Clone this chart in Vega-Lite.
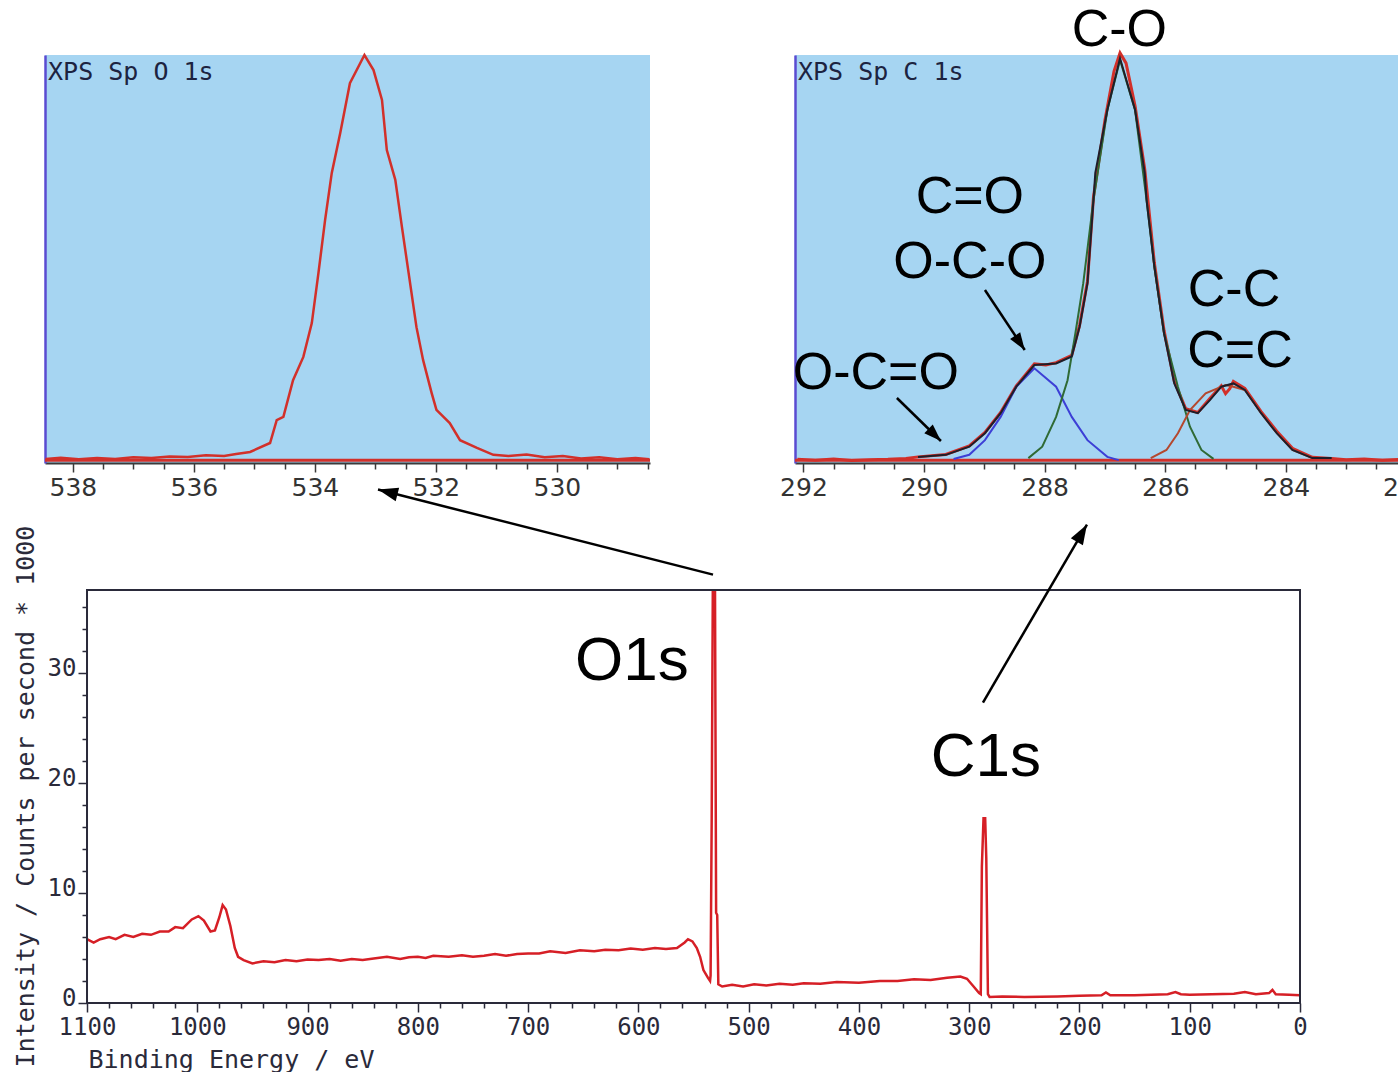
{
  "$schema": "https://vega.github.io/schema/vega-lite/v6.json",
  "background": "white",
  "padding": {"left": 12, "top": 4, "right": 0, "bottom": 0},
  "bounds": "flush",
  "spacing": 535,
  "config": {"axis": {"grid": false, "labelOverlap": false}, "view": {"stroke": null}},
  "datasets": {
    "o1s": [
      {"E": 538.45, "V": 1.0}, {"E": 538.2, "V": 1.3}, {"E": 537.9, "V": 0.9}, {"E": 537.6, "V": 1.2},
      {"E": 537.3, "V": 1.0}, {"E": 537.0, "V": 1.4}, {"E": 536.7, "V": 1.2}, {"E": 536.4, "V": 1.6},
      {"E": 536.1, "V": 1.5}, {"E": 535.8, "V": 1.9}, {"E": 535.5, "V": 1.7}, {"E": 535.3, "V": 2.2},
      {"E": 535.07, "V": 2.7}, {"E": 534.74, "V": 4.9}, {"E": 534.63, "V": 10.5}, {"E": 534.52, "V": 11.3},
      {"E": 534.36, "V": 20.3}, {"E": 534.19, "V": 26.0}, {"E": 534.05, "V": 34.3}, {"E": 533.94, "V": 46.6},
      {"E": 533.83, "V": 59.6}, {"E": 533.72, "V": 71.1}, {"E": 533.58, "V": 80.9}, {"E": 533.42, "V": 93.1},
      {"E": 533.18, "V": 100}, {"E": 533.03, "V": 96.3}, {"E": 532.89, "V": 89.0}, {"E": 532.81, "V": 76.7},
      {"E": 532.67, "V": 69.4}, {"E": 532.56, "V": 57.8}, {"E": 532.45, "V": 46.6}, {"E": 532.32, "V": 33.3},
      {"E": 532.21, "V": 25.2}, {"E": 532.07, "V": 17.2}, {"E": 531.99, "V": 13.0}, {"E": 531.77, "V": 9.8},
      {"E": 531.6, "V": 5.6}, {"E": 531.32, "V": 3.7}, {"E": 531.05, "V": 2.0}, {"E": 530.8, "V": 1.7},
      {"E": 530.5, "V": 2.1}, {"E": 530.2, "V": 1.4}, {"E": 529.9, "V": 1.7}, {"E": 529.6, "V": 1.1},
      {"E": 529.3, "V": 1.4}, {"E": 529.0, "V": 0.9}, {"E": 528.7, "V": 1.2}, {"E": 528.47, "V": 0.9}
    ],
    "c1s_data": [
      {"E": 292.1, "V": 0.9}, {"E": 291.8, "V": 0.7}, {"E": 291.5, "V": 1.0}, {"E": 291.2, "V": 0.6},
      {"E": 290.9, "V": 0.8}, {"E": 290.6, "V": 0.9}, {"E": 290.3, "V": 1.1}, {"E": 290.1, "V": 1.5},
      {"E": 289.64, "V": 2.1}, {"E": 289.25, "V": 4.2}, {"E": 288.99, "V": 7.5}, {"E": 288.73, "V": 12.4},
      {"E": 288.47, "V": 18.9}, {"E": 288.17, "V": 24.3}, {"E": 287.98, "V": 24.0}, {"E": 287.81, "V": 24.6},
      {"E": 287.55, "V": 26.4}, {"E": 287.42, "V": 33.8}, {"E": 287.29, "V": 44.5}, {"E": 287.19, "V": 65.2},
      {"E": 287.0, "V": 84}, {"E": 286.85, "V": 96}, {"E": 286.75, "V": 100.5}, {"E": 286.65, "V": 98},
      {"E": 286.5, "V": 87.5}, {"E": 286.34, "V": 72}, {"E": 286.18, "V": 49}, {"E": 286.02, "V": 32.5},
      {"E": 285.85, "V": 20}, {"E": 285.66, "V": 13.3}, {"E": 285.46, "V": 12.4}, {"E": 285.26, "V": 15.8},
      {"E": 285.07, "V": 18.9}, {"E": 285.0, "V": 17.0}, {"E": 284.93, "V": 18.2}, {"E": 284.87, "V": 20.0},
      {"E": 284.68, "V": 18.3}, {"E": 284.41, "V": 12.6}, {"E": 284.15, "V": 7.8}, {"E": 283.89, "V": 3.6},
      {"E": 283.56, "V": 1.4}, {"E": 283.24, "V": 1.1}, {"E": 283.0, "V": 0.8}, {"E": 282.7, "V": 1.0},
      {"E": 282.4, "V": 0.7}, {"E": 282.1, "V": 0.9}, {"E": 281.87, "V": 0.8}
    ],
    "c1s_env": [
      {"E": 290.1, "V": 1.5}, {"E": 289.64, "V": 2.0}, {"E": 289.25, "V": 4.0}, {"E": 288.99, "V": 7.3},
      {"E": 288.73, "V": 12.2}, {"E": 288.47, "V": 18.7}, {"E": 288.17, "V": 24.0}, {"E": 287.81, "V": 24.4},
      {"E": 287.55, "V": 26.1}, {"E": 287.42, "V": 33.4}, {"E": 287.29, "V": 44.0}, {"E": 287.19, "V": 64.5},
      {"E": 287.16, "V": 71.1}, {"E": 286.96, "V": 86.5}, {"E": 286.75, "V": 99.2}, {"E": 286.5, "V": 86.5},
      {"E": 286.34, "V": 71.1}, {"E": 286.31, "V": 64.5}, {"E": 286.18, "V": 48.1}, {"E": 286.02, "V": 31.8},
      {"E": 285.85, "V": 19.5}, {"E": 285.66, "V": 13.0}, {"E": 285.46, "V": 12.2}, {"E": 285.26, "V": 15.4},
      {"E": 285.07, "V": 18.7}, {"E": 284.87, "V": 19.5}, {"E": 284.68, "V": 17.9}, {"E": 284.41, "V": 12.2},
      {"E": 284.15, "V": 7.3}, {"E": 283.89, "V": 3.2}, {"E": 283.56, "V": 1.2}, {"E": 283.24, "V": 1.2}
    ],
    "c1s_blue": [
      {"E": 289.51, "V": 1.0}, {"E": 289.25, "V": 2.0}, {"E": 288.99, "V": 5.6}, {"E": 288.73, "V": 11.3},
      {"E": 288.47, "V": 18.7}, {"E": 288.17, "V": 23.2}, {"E": 287.81, "V": 18.7}, {"E": 287.55, "V": 11.3},
      {"E": 287.29, "V": 5.6}, {"E": 286.96, "V": 1.5}, {"E": 286.77, "V": 0.7}
    ],
    "c1s_green": [
      {"E": 288.27, "V": 1.2}, {"E": 288.04, "V": 4.0}, {"E": 287.81, "V": 11.3}, {"E": 287.62, "V": 20.3},
      {"E": 287.49, "V": 31.8}, {"E": 287.36, "V": 44.0}, {"E": 287.19, "V": 64.5}, {"E": 286.96, "V": 86.5},
      {"E": 286.75, "V": 98.8}, {"E": 286.5, "V": 86.5}, {"E": 286.31, "V": 64.5}, {"E": 286.18, "V": 48.1},
      {"E": 286.02, "V": 31.8}, {"E": 285.79, "V": 18.7}, {"E": 285.59, "V": 8.9}, {"E": 285.4, "V": 3.2},
      {"E": 285.2, "V": 1.0}
    ],
    "c1s_brown": [
      {"E": 286.24, "V": 1.2}, {"E": 285.98, "V": 3.2}, {"E": 285.79, "V": 7.3}, {"E": 285.59, "V": 13.0},
      {"E": 285.33, "V": 17.1}, {"E": 285.0, "V": 19.1}, {"E": 284.87, "V": 18.7}, {"E": 284.68, "V": 17.9},
      {"E": 284.41, "V": 12.2}, {"E": 284.15, "V": 7.3}, {"E": 283.89, "V": 3.2}, {"E": 283.56, "V": 1.2}
    ],
    "survey": [
      {"E": 1100, "I": 5.8}, {"E": 1094, "I": 5.5}, {"E": 1088, "I": 5.8}, {"E": 1080, "I": 6.0}, {"E": 1074, "I": 5.8},
      {"E": 1066, "I": 6.2}, {"E": 1058, "I": 6.0}, {"E": 1050, "I": 6.3}, {"E": 1042, "I": 6.2}, {"E": 1034, "I": 6.5},
      {"E": 1026, "I": 6.5}, {"E": 1020, "I": 6.9}, {"E": 1013, "I": 6.8}, {"E": 1005, "I": 7.6}, {"E": 999, "I": 7.9},
      {"E": 994, "I": 7.5}, {"E": 988, "I": 6.5}, {"E": 984, "I": 6.6}, {"E": 980, "I": 7.8},
      {"E": 977, "I": 8.9}, {"E": 974, "I": 8.5}, {"E": 970, "I": 7.0}, {"E": 966, "I": 5.0},
      {"E": 963, "I": 4.2}, {"E": 958, "I": 3.9}, {"E": 950, "I": 3.6}, {"E": 940, "I": 3.8}, {"E": 930, "I": 3.7},
      {"E": 920, "I": 3.9}, {"E": 910, "I": 3.8}, {"E": 900, "I": 3.95}, {"E": 890, "I": 3.9}, {"E": 880, "I": 4.0},
      {"E": 870, "I": 3.85}, {"E": 860, "I": 4.0}, {"E": 850, "I": 3.9}, {"E": 840, "I": 4.05}, {"E": 828, "I": 4.2},
      {"E": 816, "I": 4.0}, {"E": 808, "I": 4.15}, {"E": 800, "I": 4.2}, {"E": 793, "I": 4.1}, {"E": 786, "I": 4.3},
      {"E": 772, "I": 4.2}, {"E": 760, "I": 4.35}, {"E": 750, "I": 4.2}, {"E": 740, "I": 4.3}, {"E": 730, "I": 4.45},
      {"E": 720, "I": 4.3}, {"E": 710, "I": 4.45}, {"E": 700, "I": 4.5}, {"E": 690, "I": 4.5}, {"E": 680, "I": 4.7},
      {"E": 666, "I": 4.55}, {"E": 653, "I": 4.8}, {"E": 640, "I": 4.7}, {"E": 630, "I": 4.85}, {"E": 618, "I": 4.8},
      {"E": 607, "I": 4.95}, {"E": 596, "I": 4.85}, {"E": 585, "I": 5.0}, {"E": 575, "I": 4.9}, {"E": 565, "I": 5.0},
      {"E": 558, "I": 5.5}, {"E": 555, "I": 5.8}, {"E": 551, "I": 5.6}, {"E": 547, "I": 5.0}, {"E": 544, "I": 4.2},
      {"E": 541, "I": 3.0}, {"E": 537, "I": 2.3}, {"E": 535, "I": 2.0}, {"E": 534.5, "I": 2.5}, {"E": 533.5, "I": 16.8},
      {"E": 532.5, "I": 37.5}, {"E": 530.5, "I": 37.5}, {"E": 529.5, "I": 8.2}, {"E": 528.5, "I": 8.0},
      {"E": 527.5, "I": 1.7}, {"E": 524, "I": 1.5}, {"E": 515, "I": 1.65}, {"E": 505, "I": 1.5}, {"E": 495, "I": 1.7},
      {"E": 484, "I": 1.6}, {"E": 472, "I": 1.75}, {"E": 460, "I": 1.65}, {"E": 450, "I": 1.8}, {"E": 435, "I": 1.75},
      {"E": 420, "I": 1.9}, {"E": 400, "I": 1.85}, {"E": 381, "I": 2.0}, {"E": 365, "I": 2.0},
      {"E": 350, "I": 2.15}, {"E": 335, "I": 2.1}, {"E": 320, "I": 2.3}, {"E": 308, "I": 2.4}, {"E": 302, "I": 2.2},
      {"E": 296, "I": 1.5}, {"E": 291, "I": 0.9}, {"E": 289.5, "I": 0.8}, {"E": 288.5, "I": 12.4},
      {"E": 287, "I": 16.8}, {"E": 285.5, "I": 16.8}, {"E": 284.5, "I": 13.2}, {"E": 283, "I": 0.8},
      {"E": 281.5, "I": 0.55}, {"E": 270, "I": 0.6}, {"E": 250, "I": 0.55}, {"E": 220, "I": 0.6},
      {"E": 200, "I": 0.65}, {"E": 180, "I": 0.7}, {"E": 176, "I": 0.95}, {"E": 172, "I": 0.7}, {"E": 150, "I": 0.7},
      {"E": 120, "I": 0.8}, {"E": 113, "I": 1.0}, {"E": 108, "I": 0.8}, {"E": 100, "I": 0.75}, {"E": 80, "I": 0.8},
      {"E": 60, "I": 0.85}, {"E": 50, "I": 1.0}, {"E": 40, "I": 0.8},
      {"E": 28, "I": 0.9}, {"E": 25, "I": 1.2}, {"E": 22, "I": 0.8}, {"E": 10, "I": 0.75},
      {"E": 0, "I": 0.7}
    ],
    "arrows_main": [
      {"E": 532.3, "I": 38.95, "E2": 836.1, "I2": 46.68, "ang": 284.2},
      {"E": 287.5, "I": 27.32, "E2": 193.2, "I2": 43.5, "ang": 30.3}
    ],
    "labels_main": [
      {"E": 605.8, "I": 31.05, "t": "O1s"},
      {"E": 284.8, "I": 22.4, "t": "C1s"}
    ],
    "arrows_c": [
      {"E": 288.99, "V": 42.4, "E2": 288.33, "V2": 27.7, "ang": 146.3},
      {"E": 290.45, "V": 15.93, "E2": 289.72, "V2": 5.39, "ang": 134.3}
    ],
    "labels_c": [
      {"E": 286.76, "V": 106.1, "t": "C-O"},
      {"E": 289.24, "V": 65.2, "t": "C=O"},
      {"E": 289.24, "V": 49.3, "t": "O-C-O"},
      {"E": 284.86, "V": 42.4, "t": "C-C"},
      {"E": 284.76, "V": 27.5, "t": "C=C"},
      {"E": 290.8, "V": 22.1, "t": "O-C=O"}
    ],
    "title_o": [{"E": 538.41, "V": 95.8, "t": "XPS Sp O 1s"}],
    "title_c": [{"E": 292.09, "V": 95.8, "t": "XPS Sp C 1s"}],
    "one": [{"k": 1}]
  },
  "vconcat": [
    {
      "hconcat": [
        {
          "width": 605,
          "height": 408,
          "view": {"fill": "#a6d5f2", "stroke": null},
          "resolve": {"axis": {"x": "independent", "y": "independent"}},
          "layer": [
            {
              "data": {"name": "one"},
              "mark": {"type": "rule", "color": "#d2302a", "strokeWidth": 3},
              "encoding": {
                "y": {"datum": 0.7, "type": "quantitative", "scale": {"domain": [0, 100], "nice": false, "zero": false},
                  "axis": {"orient": "left", "domainColor": "#5a4bd1", "domainWidth": 2.5, "ticks": false, "labels": false, "title": null}}
              }
            },
            {
              "data": {"name": "o1s"},
              "mark": {"type": "line", "color": "#d2302a", "strokeWidth": 2.5},
              "encoding": {
                "x": {"field": "E", "type": "quantitative",
                  "scale": {"domain": [528.46, 538.46], "reverse": true, "nice": false, "zero": false},
                  "axis": {
                    "orient": "bottom", "values": [530, 532, 534, 536, 538], "tickSize": 9,
                    "domainColor": "#3a3a3a", "domainWidth": 2, "tickColor": "#3a3a3a", "tickWidth": 1.5,
                    "labelFont": "DejaVu Sans", "labelFontSize": 25, "labelColor": "#333333", "labelPadding": 3,
                    "labelFlush": false, "labelOverlap": false, "labelBound": false, "title": null
                  }},
                "y": {"field": "V", "type": "quantitative", "scale": {"domain": [0, 100], "nice": false, "zero": false}, "axis": null}
              }
            },
            {
              "data": {"name": "title_o"},
              "mark": {"type": "text", "align": "left", "baseline": "middle", "font": "DejaVu Sans Mono", "fontSize": 25, "color": "#1c2340"},
              "encoding": {
                "x": {"field": "E", "type": "quantitative", "scale": {"domain": [528.46, 538.46], "reverse": true, "nice": false, "zero": false},
                  "axis": {
                    "orient": "bottom", "values": [528.5, 529, 529.5, 530.5, 531, 531.5, 532.5, 533, 533.5, 534.5, 535, 535.5, 536.5, 537, 537.5],
                    "tickSize": 6, "domain": false, "labels": false, "tickColor": "#3a3a3a", "tickWidth": 1.5, "title": null
                  }},
                "y": {"field": "V", "type": "quantitative", "scale": {"domain": [0, 100], "nice": false, "zero": false}, "axis": null},
                "text": {"field": "t"}
              }
            }
          ]
        },
        {
          "width": 620,
          "height": 408,
          "view": {"fill": "#a6d5f2", "stroke": null},
          "resolve": {"axis": {"x": "independent", "y": "independent"}},
          "layer": [
            {
              "data": {"name": "one"},
              "mark": {"type": "rule", "color": "#d2302a", "strokeWidth": 3},
              "encoding": {
                "y": {"datum": 0.7, "type": "quantitative", "scale": {"domain": [0, 100], "nice": false, "zero": false},
                  "axis": {"orient": "left", "domainColor": "#5a4bd1", "domainWidth": 2.5, "ticks": false, "labels": false, "title": null}}
              }
            },
            {
              "data": {"name": "c1s_data"},
              "mark": {"type": "line", "color": "#d2302a", "strokeWidth": 3},
              "encoding": {
                "x": {"field": "E", "type": "quantitative",
                  "scale": {"domain": [281.858, 292.14], "reverse": true, "nice": false, "zero": false},
                  "axis": {
                    "orient": "bottom", "values": [282, 284, 286, 288, 290, 292], "tickSize": 9,
                    "domainColor": "#3a3a3a", "domainWidth": 2, "tickColor": "#3a3a3a", "tickWidth": 1.5,
                    "labelFont": "DejaVu Sans", "labelFontSize": 25, "labelColor": "#333333", "labelPadding": 3,
                    "labelFlush": false, "labelOverlap": false, "labelBound": false, "title": null
                  }},
                "y": {"field": "V", "type": "quantitative", "scale": {"domain": [0, 100], "nice": false, "zero": false}, "axis": null}
              }
            },
            {
              "data": {"name": "c1s_blue"},
              "mark": {"type": "line", "color": "#3d3fd6", "strokeWidth": 2},
              "encoding": {
                "x": {"field": "E", "type": "quantitative", "scale": {"domain": [281.858, 292.14], "reverse": true, "nice": false, "zero": false}, "axis": null},
                "y": {"field": "V", "type": "quantitative", "scale": {"domain": [0, 100], "nice": false, "zero": false}, "axis": null}
              }
            },
            {
              "data": {"name": "c1s_green"},
              "mark": {"type": "line", "color": "#2f6a35", "strokeWidth": 2},
              "encoding": {
                "x": {"field": "E", "type": "quantitative", "scale": {"domain": [281.858, 292.14], "reverse": true, "nice": false, "zero": false}, "axis": null},
                "y": {"field": "V", "type": "quantitative", "scale": {"domain": [0, 100], "nice": false, "zero": false}, "axis": null}
              }
            },
            {
              "data": {"name": "c1s_brown"},
              "mark": {"type": "line", "color": "#b4482e", "strokeWidth": 2},
              "encoding": {
                "x": {"field": "E", "type": "quantitative", "scale": {"domain": [281.858, 292.14], "reverse": true, "nice": false, "zero": false}, "axis": null},
                "y": {"field": "V", "type": "quantitative", "scale": {"domain": [0, 100], "nice": false, "zero": false}, "axis": null}
              }
            },
            {
              "data": {"name": "c1s_env"},
              "mark": {"type": "line", "color": "#1e1e2a", "strokeWidth": 2},
              "encoding": {
                "x": {"field": "E", "type": "quantitative", "scale": {"domain": [281.858, 292.14], "reverse": true, "nice": false, "zero": false}, "axis": null},
                "y": {"field": "V", "type": "quantitative", "scale": {"domain": [0, 100], "nice": false, "zero": false}, "axis": null}
              }
            },
            {
              "data": {"name": "title_c"},
              "mark": {"type": "text", "align": "left", "baseline": "middle", "font": "DejaVu Sans Mono", "fontSize": 25, "color": "#1c2340"},
              "encoding": {
                "x": {"field": "E", "type": "quantitative", "scale": {"domain": [281.858, 292.14], "reverse": true, "nice": false, "zero": false},
                  "axis": {
                    "orient": "bottom", "values": [282.5, 283, 283.5, 284.5, 285, 285.5, 286.5, 287, 287.5, 288.5, 289, 289.5, 290.5, 291, 291.5],
                    "tickSize": 6, "domain": false, "labels": false, "tickColor": "#3a3a3a", "tickWidth": 1.5, "title": null
                  }},
                "y": {"field": "V", "type": "quantitative", "scale": {"domain": [0, 100], "nice": false, "zero": false}, "axis": null},
                "text": {"field": "t"}
              }
            },
            {
              "data": {"name": "labels_c"},
              "mark": {"type": "text", "align": "center", "baseline": "middle", "font": "Liberation Sans", "fontSize": 52, "color": "black"},
              "encoding": {
                "x": {"field": "E", "type": "quantitative", "scale": {"domain": [281.858, 292.14], "reverse": true, "nice": false, "zero": false}, "axis": null},
                "y": {"field": "V", "type": "quantitative", "scale": {"domain": [0, 100], "nice": false, "zero": false}, "axis": null},
                "text": {"field": "t"}
              }
            },
            {
              "data": {"name": "arrows_c"},
              "mark": {"type": "rule", "color": "black", "strokeWidth": 2.5},
              "encoding": {
                "x": {"field": "E", "type": "quantitative", "scale": {"domain": [281.858, 292.14], "reverse": true, "nice": false, "zero": false}, "axis": null},
                "y": {"field": "V", "type": "quantitative", "scale": {"domain": [0, 100], "nice": false, "zero": false}, "axis": null},
                "x2": {"field": "E2"},
                "y2": {"field": "V2"}
              }
            },
            {
              "data": {"name": "arrows_c"},
              "mark": {"type": "point", "shape": "M0,0L0.7,2L-0.7,2Z", "filled": true, "color": "black", "opacity": 1, "size": 300},
              "encoding": {
                "x": {"field": "E2", "type": "quantitative", "scale": {"domain": [281.858, 292.14], "reverse": true, "nice": false, "zero": false}, "axis": null},
                "y": {"field": "V2", "type": "quantitative", "scale": {"domain": [0, 100], "nice": false, "zero": false}, "axis": null},
                "angle": {"field": "ang", "type": "quantitative", "scale": null}
              }
            }
          ]
        }
      ],
      "spacing": 145,
      "bounds": "flush"
    },
    {
      "width": 1255,
      "height": 413,
      "view": {"fill": "white", "stroke": null},
      "resolve": {"axis": {"x": "independent", "y": "independent"}},
      "layer": [
        {
          "data": {"name": "survey"},
          "mark": {"type": "line", "color": "#d61f26", "strokeWidth": 2.5},
          "encoding": {
            "x": {"field": "E", "type": "quantitative",
              "scale": {"domain": [0, 1138.1], "reverse": true, "nice": false, "zero": false},
              "axis": {
                "orient": "bottom", "values": [0, 100, 200, 300, 400, 500, 600, 700, 800, 900, 1000, 1100], "format": "d", "tickSize": 9,
                "domain": false, "tickColor": "#2a2a3a", "tickWidth": 1.5,
                "labelFont": "DejaVu Sans Mono", "labelFontSize": 24, "labelColor": "#2a2a3a", "labelPadding": 3,
                "labelFlush": false, "labelOverlap": false, "labelBound": false,
                "title": "Binding Energy / eV", "titleFont": "DejaVu Sans Mono", "titleFontSize": 25, "titleFontWeight": "normal",
                "titleColor": "#2a2a3a", "titleX": 43, "titleY": 64, "titleAlign": "left", "titleBaseline": "alphabetic"
              }},
            "y": {"field": "I", "type": "quantitative",
              "scale": {"domain": [0, 37.55], "nice": false, "zero": false},
              "axis": {
                "orient": "left", "values": [0, 10, 20, 30], "format": "d", "tickSize": 9,
                "offset": -42, "domain": false, "tickColor": "#2a2a3a", "tickWidth": 1.5,
                "labelFont": "DejaVu Sans Mono", "labelFontSize": 24, "labelColor": "#2a2a3a", "labelPadding": 2,
                "labelBaseline": "middle", "labelOffset": -5, "labelOverlap": false, "labelBound": false, "labelFlush": false,
                "title": "Intensity / Counts per second * 1000", "titleFont": "DejaVu Sans Mono", "titleFontSize": 25, "titleFontWeight": "normal",
                "titleColor": "#2a2a3a", "titleX": -62, "titleY": 206, "titleAngle": -90, "titleAlign": "center", "titleBaseline": "middle"
              }}
          }
        },
        {
          "data": {"name": "one"},
          "mark": {"type": "rect", "fillOpacity": 0, "stroke": "#2a2a3a", "strokeWidth": 2},
          "encoding": {
            "x": {"datum": 1100, "type": "quantitative", "scale": {"domain": [0, 1138.1], "reverse": true, "nice": false, "zero": false},
              "axis": {
                "orient": "bottom", "values": [20, 40, 60, 80, 120, 140, 160, 180, 220, 240, 260, 280, 320, 340, 360, 380, 420, 440, 460, 480, 520, 540, 560, 580, 620, 640, 660, 680, 720, 740, 760, 780, 820, 840, 860, 880, 920, 940, 960, 980, 1020, 1040, 1060, 1080],
                "tickSize": 5, "domain": false, "labels": false, "tickColor": "#2a2a3a", "tickWidth": 1.5, "title": null
              }},
            "x2": {"datum": 0},
            "y": {"datum": 0, "type": "quantitative", "scale": {"domain": [0, 37.55], "nice": false, "zero": false},
              "axis": {
                "orient": "left", "values": [2, 4, 6, 8, 12, 14, 16, 18, 22, 24, 26, 28, 32, 34, 36],
                "offset": -42, "tickSize": 5, "domain": false, "labels": false, "tickColor": "#2a2a3a", "tickWidth": 1.5, "title": null
              }},
            "y2": {"datum": 37.55}
          }
        },
        {
          "data": {"name": "labels_main"},
          "mark": {"type": "text", "align": "center", "baseline": "middle", "font": "Liberation Sans", "fontSize": 62, "color": "black"},
          "encoding": {
            "x": {"field": "E", "type": "quantitative", "scale": {"domain": [0, 1138.1], "reverse": true, "nice": false, "zero": false}, "axis": null},
            "y": {"field": "I", "type": "quantitative", "scale": {"domain": [0, 37.55], "nice": false, "zero": false}, "axis": null},
            "text": {"field": "t"}
          }
        },
        {
          "data": {"name": "arrows_main"},
          "mark": {"type": "rule", "color": "black", "strokeWidth": 2.5},
          "encoding": {
            "x": {"field": "E", "type": "quantitative", "scale": {"domain": [0, 1138.1], "reverse": true, "nice": false, "zero": false}, "axis": null},
            "y": {"field": "I", "type": "quantitative", "scale": {"domain": [0, 37.55], "nice": false, "zero": false}, "axis": null},
            "x2": {"field": "E2"},
            "y2": {"field": "I2"}
          }
        },
        {
          "data": {"name": "arrows_main"},
          "mark": {"type": "point", "shape": "M0,0L0.7,2L-0.7,2Z", "filled": true, "color": "black", "opacity": 1, "size": 400},
          "encoding": {
            "x": {"field": "E2", "type": "quantitative", "scale": {"domain": [0, 1138.1], "reverse": true, "nice": false, "zero": false}, "axis": null},
            "y": {"field": "I2", "type": "quantitative", "scale": {"domain": [0, 37.55], "nice": false, "zero": false}, "axis": null},
            "angle": {"field": "ang", "type": "quantitative", "scale": null}
          }
        }
      ]
    }
  ]
}
